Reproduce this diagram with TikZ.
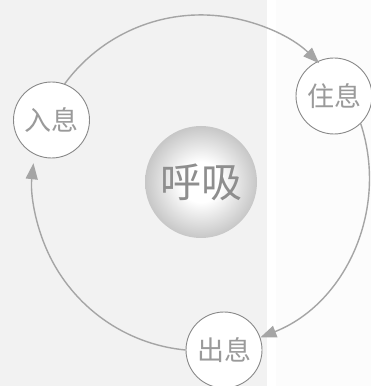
\documentclass[tikz,border=0pt]{standalone}
\usepackage{fontspec}
\newfontfamily\cjk{Noto Sans CJK SC}
\usetikzlibrary{arrows.meta}
\definecolor{bgleft}{HTML}{F2F2F2}
\definecolor{bgright}{HTML}{FCFCFC}
\definecolor{ringline}{HTML}{888888}
\definecolor{arcline}{HTML}{A5A5A5}
\definecolor{txtgray}{HTML}{9A9A9A}
\definecolor{spheretxt}{HTML}{8E8E8E}
\pgfdeclareradialshading{sphshade}{\pgfpoint{0bp}{0bp}}{color(0bp)=(white); color(9bp)=(white); color(25bp)=(black!22); color(50bp)=(black!22)}
\tikzset{
  stage/.style={circle, draw=ringline, line width=0.9pt, fill=white, minimum size=76pt, inner sep=0pt,
    font=\cjk\fontsize{27}{27}\selectfont, text=txtgray},
  sphere/.style={circle, minimum size=112pt, inner sep=0pt, shading=sphshade,
    font=\cjk\fontsize{41}{41}\selectfont, text=spheretxt},
  cyc/.style={draw=arcline, line width=1.4pt, -{Triangle[length=16pt,width=12pt,fill=arcline]}}
}
\begin{document}
\begin{tikzpicture}[x=1pt,y=1pt]
\useasboundingbox (0,0) rectangle (371,386);
\clip (0,0) rectangle (371,386);
\fill[bgright] (0,0) rectangle (371,386);
\fill[bgleft] (0,0) rectangle (267,386);
\fill[white] (267,0) rectangle (276,386);
% nodes (pixel (px,py) -> (px, 386-py))
\node[sphere] (hx) at (201,204) {呼吸};
\node[stage] (ru) at (51.5,266) {入息};
\node[stage] (zhu) at (334,290) {住息};
\node[stage] (chu) at (224,36) {出息};
% cycle arcs
\draw[cyc] (ru.70) arc[start angle=143.7, end angle=45.6, radius=169pt];
\draw[cyc] (zhu.-46) arc[start angle=18.2, end angle=-68.5, radius=172pt];
\draw[cyc] (chu.180) arc[start angle=-95.4, end angle=-186.3, radius=169pt];
\end{tikzpicture}
\end{document}
